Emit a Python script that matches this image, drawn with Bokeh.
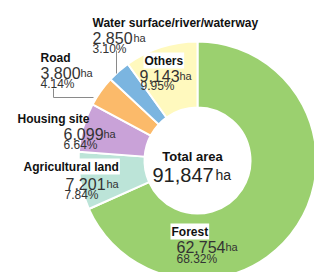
import numpy as np
from bokeh.plotting import figure
from bokeh.models import Range1d, ColumnDataSource
from bokeh.embed import file_html
from bokeh.resources import INLINE
from bokeh.core.properties import value

# ---- data ----
categories = ["Forest", "Agricultural land", "Housing site", "Road",
              "Water surface/river/waterway", "Others"]
areas = [62754, 7201, 6099, 3800, 2850, 9143]
area_labels = ["62,754", "7,201", "6,099", "3,800", "2,850", "9,143"]
percents = ["68.32%", "7.84%", "6.64%", "4.14%", "3.10%", "9.95%"]
total_label = "Total area"
total_value = "91,847"
unit = "ha"
colors = ["#9BD06F", "#BCE4D8", "#C9A2D8", "#FBBA6A", "#7BB5E0", "#FFF9BE"]

# ---- layout helpers (reference pixel coords -> data coords) ----
W, H = 314, 272
def Y(y):
    return 272 - y

FONT = "Liberation Sans"
p = figure(width=W, height=H, output_backend="svg", toolbar_location=None,
           x_range=Range1d(0, W), y_range=Range1d(0, H),
           min_border=0, outline_line_color=None)
p.axis.visible = False
p.grid.visible = False
p.background_fill_color = "white"
p.border_fill_color = "white"

total = sum(areas)
cum = np.concatenate([[0.0], np.cumsum(areas)]) / total * 2 * np.pi
start = np.pi / 2 - cum[:-1]
end = np.pi / 2 - cum[1:]
src = ColumnDataSource(dict(start=start, end=end, color=colors, name=categories))
cx, cy = 197, Y(160)
p.annular_wedge(x=cx, y=cy, inner_radius=53, outer_radius=119,
                start_angle="start", end_angle="end", direction="clock",
                fill_color="color", line_color="white", line_width=2, source=src)

# leader lines
p.line(x=[116, 116], y=[Y(50), Y(73)], line_color="#8a8a8a", line_width=1)
p.line(x=[53, 53, 93], y=[Y(88), Y(97), Y(97)], line_color="#8a8a8a", line_width=1)

# label positions (reference pixels, baselines)
lab_pos = [(170, 231), (22, 166), (17, 118), (40, 57), (92, 22), (143, 60)]
num_pos = [(176, 246), (65, 183), (63, 133), (40, 72), (92, 37), (139, 75)]
ha_pos = [(225, 246), (106, 183), (103, 133), (80, 72), (133, 37), (179, 75)]
pct_pos = [(176, 258), (64, 194), (63, 144), (40, 83), (92, 48), (140, 85)]
boxed = [True, True, False, False, False, True]

for i, name in enumerate(categories):
    kw = dict(text_font=value(FONT), text_baseline="alphabetic", text_align="left")
    if boxed[i]:
        kw.update(background_fill_color="white", padding=1)
    p.text(x=[lab_pos[i][0]], y=[Y(lab_pos[i][1])], text=[name],
           text_font_size="12px", text_font_style="bold", text_color="#111111", **kw)
    p.text(x=[num_pos[i][0]], y=[Y(num_pos[i][1])], text=[area_labels[i]],
           text_font=value(FONT), text_font_size="16px", text_color="#333333",
           text_baseline="alphabetic", text_align="left")
    p.text(x=[ha_pos[i][0]], y=[Y(ha_pos[i][1])], text=[unit],
           text_font=value(FONT), text_font_size="11px", text_color="#333333",
           text_baseline="alphabetic", text_align="left")
    p.text(x=[pct_pos[i][0]], y=[Y(pct_pos[i][1])], text=[percents[i]],
           text_font=value(FONT), text_font_size="12px", text_color="#333333",
           text_baseline="alphabetic", text_align="left")

# centre
p.text(x=[192], y=[Y(156)], text=[total_label], text_font=value(FONT),
       text_font_size="13px", text_font_style="bold", text_color="#111111",
       text_baseline="alphabetic", text_align="center")
p.text(x=[152], y=[Y(174)], text=[total_value], text_font=value(FONT),
       text_font_size="20px", text_color="#222222",
       text_baseline="alphabetic", text_align="left")
p.text(x=[215], y=[Y(174)], text=[unit], text_font=value(FONT),
       text_font_size="14px", text_color="#222222",
       text_baseline="alphabetic", text_align="left")

open("out.html", "w").write(file_html(p, INLINE))
